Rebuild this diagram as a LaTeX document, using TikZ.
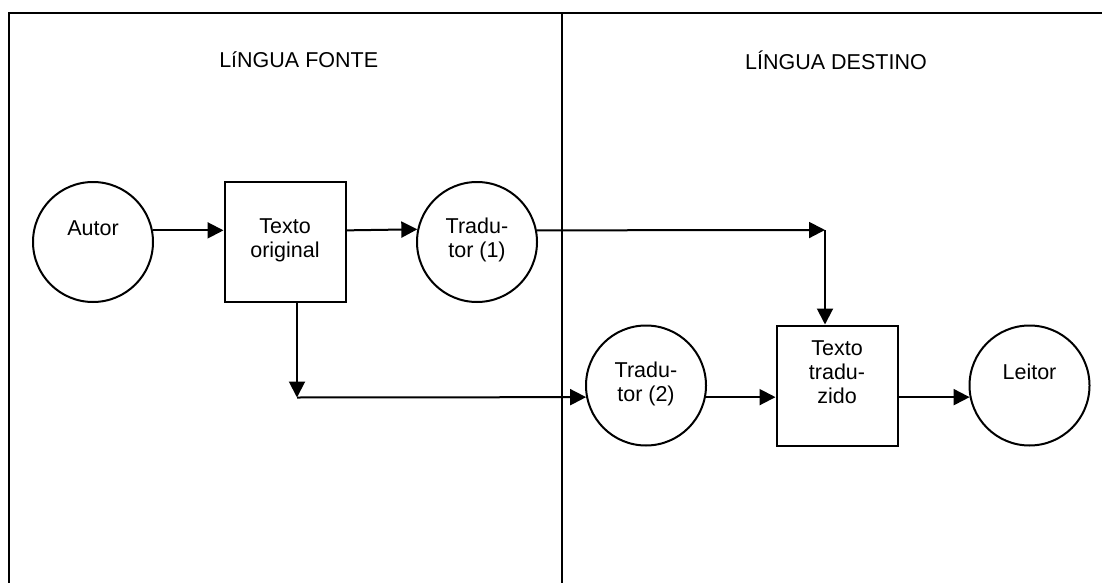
\documentclass[tikz,border=0pt]{standalone}
\usepackage{fontspec}
\setmainfont{Liberation Sans}
\usetikzlibrary{arrows.meta,calc}
\begin{document}
\begin{tikzpicture}[x=1pt,y=-1pt,
  every node/.style={font=\fontsize{21.5}{24}\selectfont},
  frameline/.style={line width=2.2pt,line cap=rect},
  circ/.style={draw,line width=2pt,circle,minimum size=120pt,inner sep=0pt},
  boxnode/.style={draw,line width=2pt,rectangle,minimum width=121pt,minimum height=120pt,inner sep=0pt},
  txt/.style={align=center,inner sep=0pt},
  arr/.style={line width=2pt,-{Triangle[length=16pt,width=16pt]}}]
\useasboundingbox (0,0) rectangle (1102,583);
% frame
\coordinate (fbl) at (9,590);
\coordinate (ftl) at (9,13);
\coordinate (ftr) at (1110,13);
\coordinate (dtop) at (562,13);
\coordinate (dbot) at (562,590);
\draw[frameline] (fbl) -- (ftl) -- (ftr);
\draw[line width=2.2pt] (dtop) -- (dbot);
% titles
\node[txt] (tfonte) at (298.7,60) {LíNGUA FONTE};
\node[txt] (tdest) at (836,60) {LÍNGUA DESTINO};
% shapes
\node[circ,label={[txt,yshift=14pt]center:Autor}] (autor) at (93,242) {};
\node[boxnode,label={[txt,yshift=2pt]center:Texto\\original}] (orig) at (285,242) {};
\node[circ,label={[txt,yshift=2pt]center:Tradu-\\tor (1)}] (trad1) at (477,242) {};
\node[circ,label={[txt,yshift=1.5pt]center:Tradu-\\tor (2)}] (trad2) at (646,385.5) {};
\node[boxnode,label={[txt,yshift=13.5pt]center:Texto\\tradu-\\zido}] (tradtxt) at (837,385.5) {};
\node[circ,label={[txt,yshift=13.5pt]center:Leitor}] (leitor) at (1029.5,385.5) {};
% junctions
\coordinate (c1) at (825,230);
\coordinate (c2) at (297,397.5);
% connectors
\draw[arr] (autor.11.5) -- (autor.11.5 -| orig.west);
\draw[arr] (orig.east |- autor.11.5) -- (trad1.168.5);
\draw[arr] (trad1.11.5) -- (c1);
\draw[arr] (c1) -- (c1 |- tradtxt.north);
\draw[arr] (c2 |- orig.south) -- (c2);
\draw[arr] (c2) -- (trad2.191.5);
\draw[arr] (trad2.-11.5) -- (trad2.-11.5 -| tradtxt.west);
\draw[arr] (tradtxt.east |- trad2.-11.5) -- (leitor.191.5);
\end{tikzpicture}
\end{document}
